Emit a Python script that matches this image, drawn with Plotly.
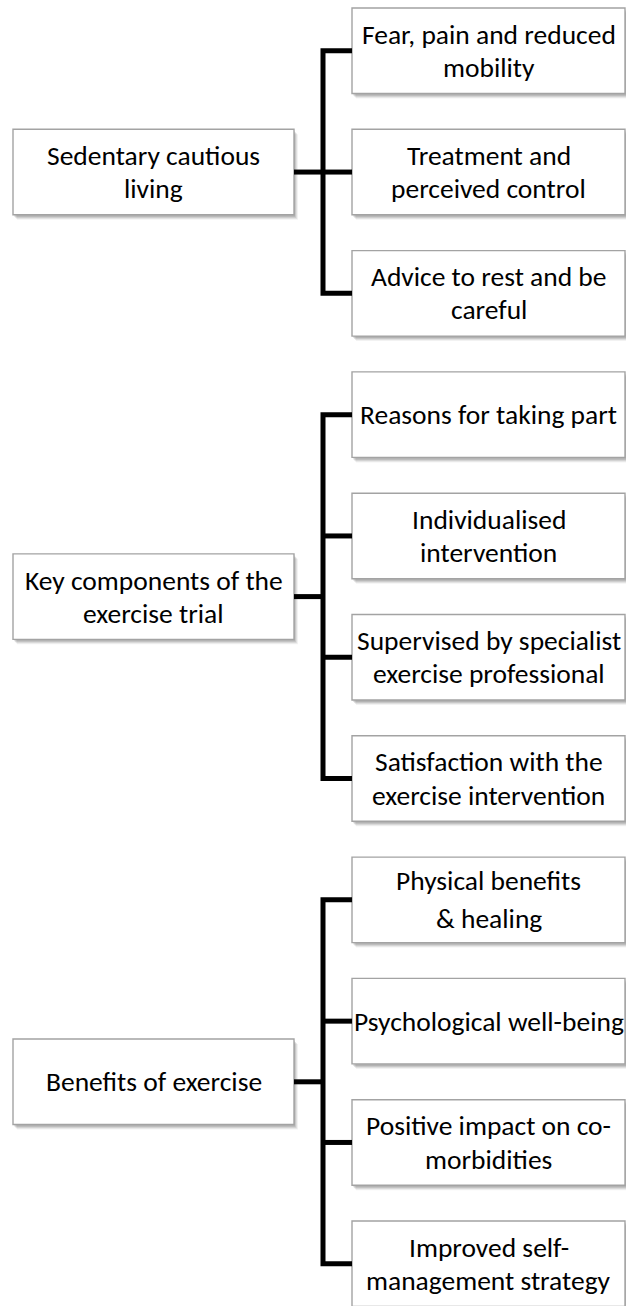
import plotly.graph_objects as go

# ---- data ----
group_titles = [
    "Sedentary cautious<br>living",
    "Key components of the<br>exercise trial",
    "Benefits of exercise",
]
group_children = [
    ["Fear, pain and reduced<br>mobility",
     "Treatment and<br>perceived control",
     "Advice to rest and be<br>careful"],
    ["Reasons for taking part",
     "Individualised<br>intervention",
     "Supervised by specialist<br>exercise professional",
     "Satisfaction with the<br>exercise intervention"],
    ["Physical benefits<br>& healing",
     "Psychological well-being",
     "Positive impact on co-<br>morbidities",
     "Improved self-<br>management strategy"],
]

# ---- layout constants ----
W, H = 626, 1306
LEFT_X0, LEFT_X1 = 13, 294
RIGHT_X0, RIGHT_X1 = 352, 625
CONN_X = 323
TOP0 = 8
STEP = 121.3
BOX_H = 85.5
LINE_GAP = 33.2
WIDE_GAP_LABELS = {"Physical benefits<br>& healing": 38}
FONT = dict(family="Calibri, Carlito, Lato, sans-serif", size=27.5, color="#000000")
BORDER = "#a3a3a3"

fig = go.Figure()
shapes = []
annotations = []


def add_box(x0, y0, x1, y1):
    # soft shadow
    for (dx, dy, a) in [(4, 5, 0.05), (3, 4, 0.08), (2, 3, 0.10), (1, 2, 0.10)]:
        shapes.append(dict(type="rect", x0=x0 + dx, x1=x1 + dx, y0=y0 + dy, y1=y1 + dy,
                           xref="x", yref="y", line=dict(width=0),
                           fillcolor=f"rgba(0,0,0,{a})", layer="below"))
    shapes.append(dict(type="rect", x0=x0, x1=x1, y0=y0, y1=y1, xref="x", yref="y",
                       line=dict(color=BORDER, width=1.4), fillcolor="white", layer="below"))


def add_text(cx, cy, label):
    lines = label.split("<br>")
    gap = WIDE_GAP_LABELS.get(label, LINE_GAP)
    n = len(lines)
    for i, ln in enumerate(lines):
        y = cy + (i - (n - 1) / 2) * gap
        annotations.append(dict(x=cx, y=y, xref="x", yref="y", text=ln, showarrow=False,
                                font=FONT, xanchor="center", yanchor="middle", borderpad=0))


idx = 0
for title, children in zip(group_titles, group_children):
    centers = []
    for child in children:
        top = TOP0 + idx * STEP
        bot = top + BOX_H
        cy = (top + bot) / 2
        centers.append(cy)
        add_box(RIGHT_X0, top, RIGHT_X1, bot)
        add_text((RIGHT_X0 + RIGHT_X1) / 2, cy, child)
        idx += 1
    gmid = (centers[0] + centers[-1]) / 2
    add_box(LEFT_X0, gmid - BOX_H / 2, LEFT_X1, gmid + BOX_H / 2)
    add_text((LEFT_X0 + LEFT_X1) / 2, gmid, title)
    # bracket connector
    path = f"M {RIGHT_X0},{centers[0]} L {CONN_X},{centers[0]} L {CONN_X},{centers[-1]} L {RIGHT_X0},{centers[-1]}"
    shapes.append(dict(type="path", path=path, xref="x", yref="y",
                       line=dict(color="black", width=5), layer="above"))
    for cy in centers[1:-1]:
        shapes.append(dict(type="line", x0=CONN_X, x1=RIGHT_X0, y0=cy, y1=cy, xref="x", yref="y",
                           line=dict(color="black", width=5), layer="above"))
    shapes.append(dict(type="line", x0=LEFT_X1, x1=CONN_X, y0=gmid, y1=gmid, xref="x", yref="y",
                       line=dict(color="black", width=5), layer="above"))

fig.update_layout(
    width=W, height=H,
    margin=dict(l=0, r=0, t=0, b=0),
    paper_bgcolor="white", plot_bgcolor="white",
    xaxis=dict(range=[0, W], visible=False, fixedrange=True),
    yaxis=dict(range=[H, 0], visible=False, fixedrange=True),
    shapes=shapes, annotations=annotations, showlegend=False,
)

fig.write_html("out.html", config={"displayModeBar": False},
               post_script="document.body.style.margin='0';document.body.style.overflow='hidden';")
